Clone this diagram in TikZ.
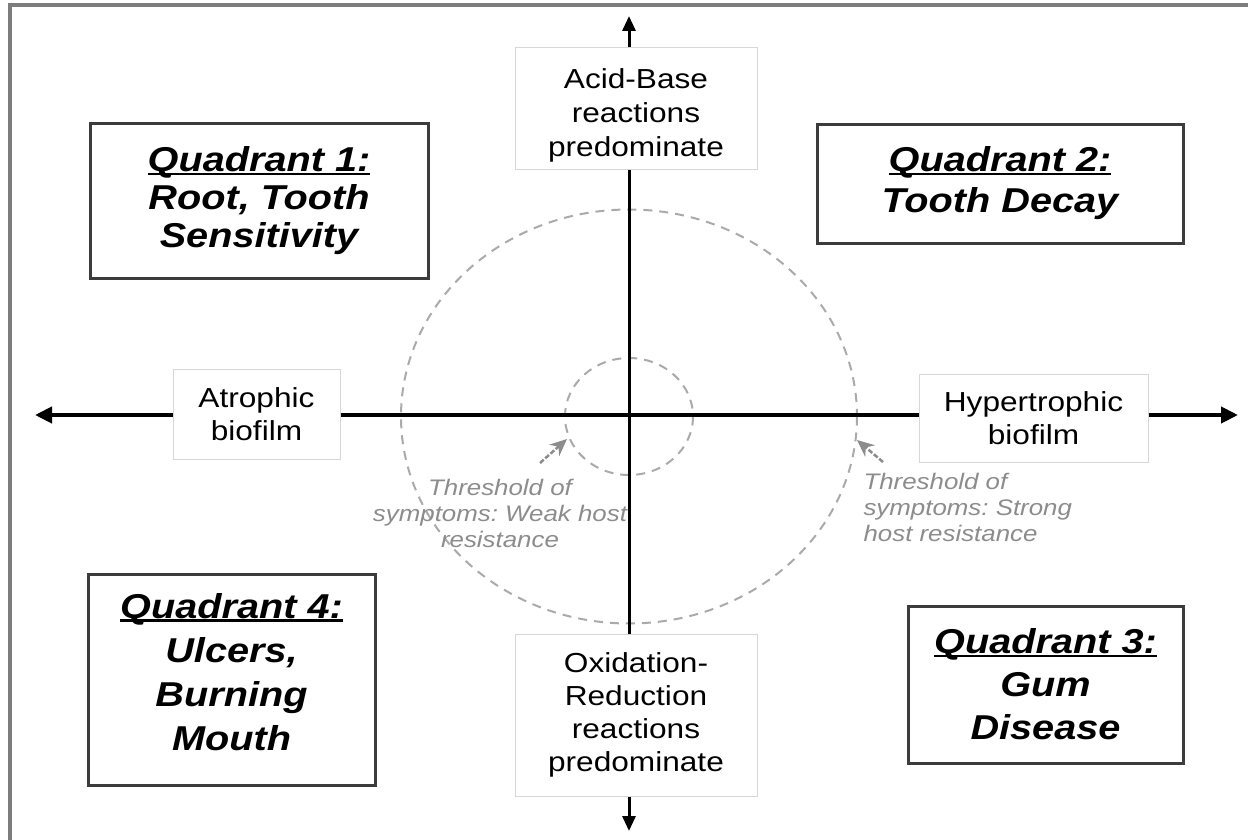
\documentclass[tikz,border=0pt]{standalone}
\usepackage{fontspec}
\setmainfont{Liberation Sans}[FakeStretch=1.15]
\usetikzlibrary{arrows.meta}
\definecolor{framec}{RGB}{125,125,125}
\definecolor{qboxc}{RGB}{60,60,60}
\definecolor{lboxc}{RGB}{215,215,215}
\definecolor{ringc}{RGB}{170,170,170}
\definecolor{thrc}{RGB}{140,140,140}
\newcommand\qul[1]{\sbox0{#1}\rlap{\usebox0}\rule[-3.5pt]{\wd0}{2.2pt}}
\newcommand\lowpad[1]{\rule[-#1]{0pt}{1pt}}
\tikzset{
  quad/.style={draw=qboxc, line width=3pt, fill=white, align=center, inner sep=0pt,
    font=\fontsize{34.5}{#1}\selectfont\bfseries\itshape},
  quad/.default=39,
  lab/.style={draw=lboxc, line width=1pt, fill=white, align=center, inner sep=0pt,
    font=\fontsize{27.5}{33}\selectfont},
  axis/.style={line width=4pt},
  axisarrow/.style={line width=4pt, -{Triangle[length=17pt,width=16pt]}},
  vaxis/.style={line width=3pt},
  vaxisarrow/.style={line width=3pt, -{Triangle[length=15pt,width=13pt]}},
  thr/.style={text=thrc, font=\fontsize{22.5}{26}\selectfont\itshape\frenchspacing},
  ring/.style={draw=ringc, line width=2pt, dash pattern=on 9pt off 7pt},
  pointer/.style={draw=thrc, line width=2.5pt, dash pattern=on 5pt off 2pt,
    -{Stealth[length=17pt,width=15pt,fill=thrc]}},
}
\begin{document}
\begin{tikzpicture}[x=1pt,y=-1pt]
\useasboundingbox (0,0) rectangle (1248,840);
% frame
\draw[framec, line width=4pt] (10,845) -- (10,5) -- (1255,5);
% rings
\coordinate (ctr) at (629,416.5);
\draw[ring] (ctr) ellipse [x radius=228, y radius=207];
\draw[ring] (ctr) ellipse [x radius=64, y radius=58.5];
% tips
\coordinate (ttip) at (629,16);
\coordinate (btip) at (629,831);
\coordinate (ltip) at (35,415);
\coordinate (rtip) at (1238,415);
% boxes
\node[lab, minimum width=242, minimum height=122, font=\fontsize{27.5}{34}\selectfont] (acid) at (636,109) {\rule{0pt}{32pt}Acid-Base\\reactions\\predominate};
\node[lab, minimum width=242, minimum height=162] (ox) at (636,715) {Oxidation-\\Reduction\\reactions\\predominate};
\node[lab, minimum width=167, minimum height=90] (atro) at (256.5,414) {Atrophic\\biofilm};
\node[lab, minimum width=229, minimum height=88] (hyper) at (1033.5,418) {Hypertrophic\\biofilm};
% axes
\draw[vaxisarrow] (ttip |- acid.north) -- (ttip);
\draw[vaxis] (ttip |- acid.south) -- (ttip |- ox.north);
\draw[vaxisarrow] (ttip |- ox.south) -- (btip);
\draw[axisarrow] (ltip -| atro.west) -- (ltip);
\draw[axis] (ltip -| atro.east) -- (ltip -| hyper.west);
\draw[axisarrow] (ltip -| hyper.east) -- (rtip);
% quadrants
\node[quad=38, minimum width=338, minimum height=154] (q1) at (259,201) {\qul{Quadrant 1:}\\Root, Tooth\\Sensitivity};
\node[quad=41, minimum width=366, minimum height=118] (q2) at (1000,184) {\qul{Quadrant 2:}\\Tooth Decay\lowpad{9pt}};
\node[quad=44, minimum width=287, minimum height=211] (q4) at (231.5,679.5) {\qul{Quadrant 4:}\\Ulcers,\\Burning\\Mouth\lowpad{16pt}};
\node[quad=43, minimum width=275, minimum height=157] (q3) at (1045.5,684.5) {\qul{Quadrant 3:}\\Gum\\Disease};
% threshold labels
\node[thr, align=center] (weak) at (500,513) {Threshold of\\symptoms: Weak host\\resistance};
\node[thr, align=left, anchor=west] (strong) at (860,507) {Threshold of\\symptoms: Strong\\host resistance};
\coordinate (wtail) at (540,463);
\coordinate (whead) at (567,439);
\coordinate (stail) at (883,462);
\coordinate (shead) at (857,440);
\draw[pointer] (wtail) -- (whead);
\draw[pointer] (stail) -- (shead);
\end{tikzpicture}
\end{document}
